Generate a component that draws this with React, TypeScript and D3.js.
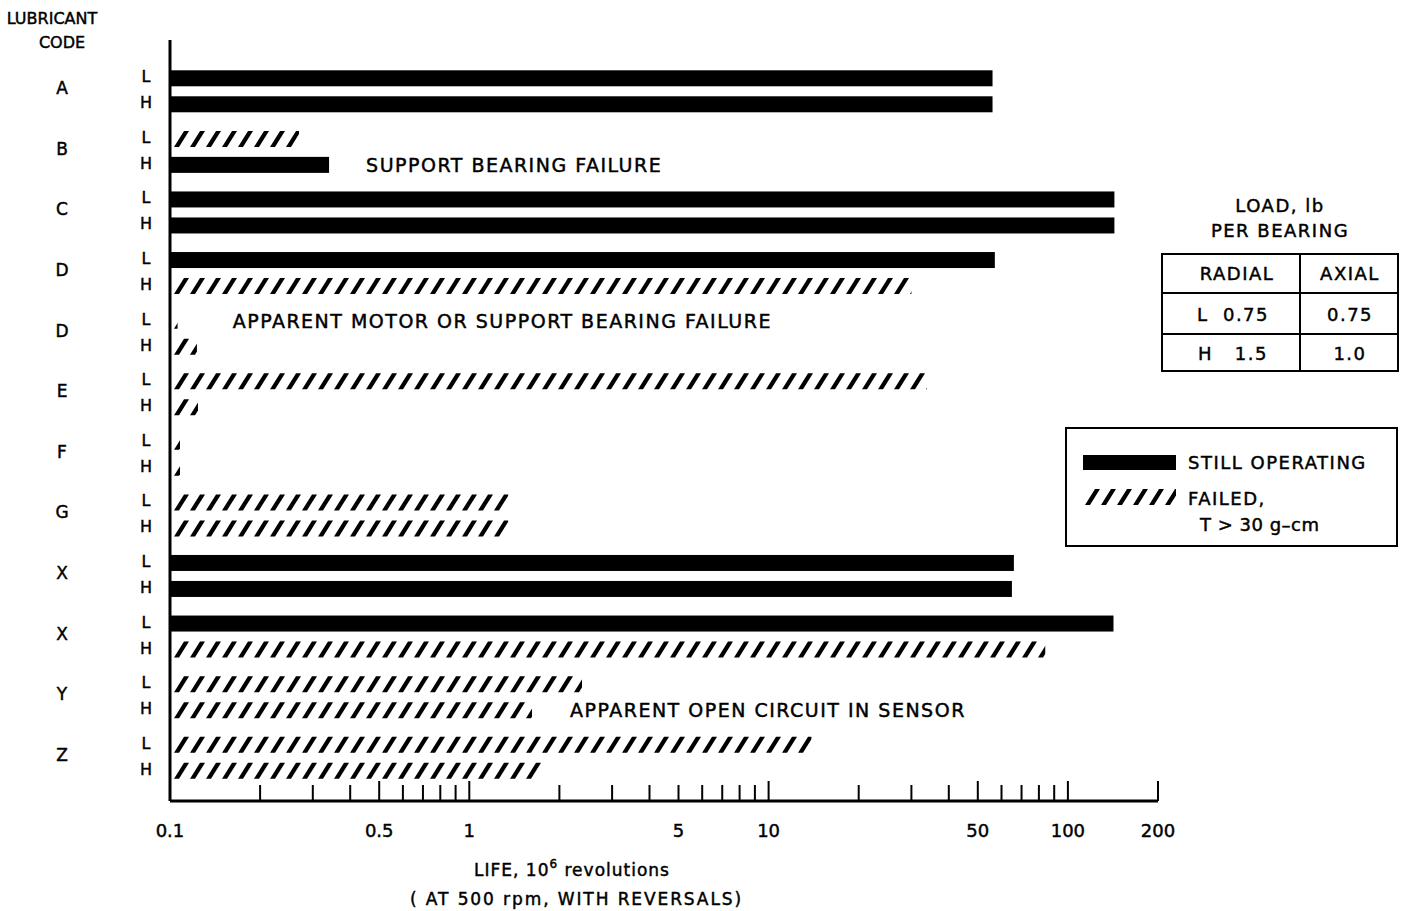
import React from "react";
import { scaleLog, scaleBand, range } from "d3";

// lubricant codes, one group per row pair (L then H load)
const codes = ["A", "B", "C", "D", "D", "E", "F", "G", "X", "X", "Y", "Z"];
const lifeL = [56, 0.27, 143, 57, 0.106, 33.8, 0.108, 1.35, 66, 142, 2.38, 13.9];
const lifeH = [56, 0.34, 143, 30, 0.123, 0.124, 0.108, 1.35, 65, 84, 1.62, 1.75];
const statusL = ["run", "fail", "run", "run", "fail", "fail", "fail", "fail", "run", "run", "fail", "fail"];
const statusH = ["run", "run", "run", "fail", "fail", "fail", "fail", "fail", "run", "fail", "fail", "fail"];

const minorTicks = [0.2, 0.3, 0.4, 0.5, 0.6, 0.7, 0.8, 0.9, 1, 2, 3, 4, 5, 6, 7, 8, 9, 10, 20, 30, 40, 50, 60, 70, 80, 90, 100, 200];
const majorTicks = [0.5, 1, 10, 50, 100, 200];
const tickLabels = [0.1, 0.5, 1, 5, 10, 50, 100, 200];

const notes = [
  { text: "SUPPORT BEARING FAILURE", group: 1, load: "H", x: 0.452 },
  { text: "APPARENT MOTOR OR SUPPORT BEARING FAILURE", group: 4, load: "L", x: 0.162 },
  { text: "APPARENT OPEN CIRCUIT IN SENSOR", group: 10, load: "H", x: 2.17 },
];

const tableRows = [
  ["L  0.75", "0.75"],
  ["H   1.5", "1.0"],
];

const FONT = "'DejaVu Sans', sans-serif";
const BAR_H = 16;
// heavier lettering, like the stencil text of the original
const ink = { fill: "#000", stroke: "#000", strokeWidth: 0.45 };

function Hatch({ x0, x1, yc, id }) {
  const top = yc - BAR_H / 2;
  const bot = yc + BAR_H / 2;
  const starts = range(x0 + 2, x1, 16);
  return (
    <g>
      <clipPath id={id}>
        <rect x={x0} y={top - 1} width={Math.max(0, x1 - x0)} height={BAR_H + 2} />
      </clipPath>
      <g clipPath={`url(#${id})`}>
        {starts.map((s, i) => (
          <polygon
            key={i}
            points={`${s},${bot} ${s + 5},${bot} ${s + 15},${top} ${s + 10},${top}`}
            fill="#000"
          />
        ))}
      </g>
    </g>
  );
}

export default function App() {
  const x = scaleLog().domain([0.1, 200]).range([170, 1158]);
  const y = scaleBand<number>()
    .domain(range(codes.length))
    .range([61, 788])
    .paddingInner(0);
  const axisY = 801;
  const x0 = x(0.1);

  const rowY = (g: number, load: string) =>
    (y(g) as number) + y.bandwidth() / 2 + (load === "L" ? -13 : 13);

  const bars = [];
  codes.forEach((c, i) => {
    [
      ["L", lifeL[i], statusL[i]],
      ["H", lifeH[i], statusH[i]],
    ].forEach(([load, v, st]) => {
      bars.push({ g: i, load, v, st });
    });
  });

  return (
    <svg
      width={1406}
      height={911}
      style={{ position: "absolute", left: 0, top: 0, background: "#fff" }}
      fontFamily={FONT}
    >
      <text x={52} y={24} textAnchor="middle" fontSize={16} {...ink}>LUBRICANT</text>
      <text x={62} y={48} textAnchor="middle" fontSize={16} {...ink}>CODE</text>

      {codes.map((c, i) => (
        <text key={i} x={62} y={(y(i) as number) + y.bandwidth() / 2 + 3} textAnchor="middle" fontSize={17} {...ink}>
          {c}
        </text>
      ))}

      {bars.map((b, i) => {
        const yc = rowY(b.g, b.load);
        return (
          <text key={"lh" + i} x={146} y={yc + 4} textAnchor="middle" fontSize={16} {...ink}>
            {b.load}
          </text>
        );
      })}

      {bars.map((b, i) => {
        const yc = rowY(b.g, b.load);
        const x1 = x(b.v);
        return b.st === "run" ? (
          <rect key={"b" + i} x={x0} y={yc - BAR_H / 2} width={x1 - x0} height={BAR_H} fill="#000" />
        ) : (
          <Hatch key={"b" + i} x0={x0 + 2} x1={x1} yc={yc} id={"clip" + i} />
        );
      })}

      {notes.map((n, i) => (
        <text key={"n" + i} x={x(n.x)} y={rowY(n.group, n.load) + 7} fontSize={19} letterSpacing={1.5} {...ink}>
          {n.text}
        </text>
      ))}

      {/* axes */}
      <line x1={x0} x2={x0} y1={40} y2={axisY} stroke="#000" strokeWidth={3} />
      <line x1={x0} x2={x(200)} y1={axisY} y2={axisY} stroke="#000" strokeWidth={3} />
      {minorTicks.map((t) => (
        <line
          key={"t" + t}
          x1={x(t)}
          x2={x(t)}
          y1={axisY}
          y2={axisY - (majorTicks.includes(t) ? 20 : 16)}
          stroke="#000"
          strokeWidth={2}
        />
      ))}
      {tickLabels.map((t) => (
        <text key={"l" + t} x={x(t)} y={axisY + 36} textAnchor="middle" fontSize={18} {...ink}>
          {t}
        </text>
      ))}

      <text x={474} y={876} fontSize={17} letterSpacing={1} {...ink}>
        LIFE, 10
        <tspan dy={-8} fontSize={12}>6</tspan>
        <tspan dy={8}> revolutions</tspan>
      </text>
      <text x={410} y={905} fontSize={17} letterSpacing={1.9} {...ink}>
        ( AT  500 rpm, WITH REVERSALS)
      </text>

      {/* load table */}
      <text x={1280} y={212} textAnchor="middle" fontSize={18} letterSpacing={1.5} {...ink}>LOAD, lb</text>
      <text x={1280} y={237} textAnchor="middle" fontSize={18} letterSpacing={1.5} {...ink}>PER BEARING</text>
      <rect x={1162} y={254} width={236} height={117} fill="none" stroke="#000" strokeWidth={2} />
      <line x1={1300} x2={1300} y1={254} y2={371} stroke="#000" strokeWidth={2} />
      <line x1={1162} x2={1398} y1={293} y2={293} stroke="#000" strokeWidth={2} />
      <line x1={1162} x2={1398} y1={334} y2={334} stroke="#000" strokeWidth={2} />
      <text x={1237} y={280} textAnchor="middle" fontSize={18} letterSpacing={1.5} {...ink}>RADIAL</text>
      <text x={1350} y={280} textAnchor="middle" fontSize={18} letterSpacing={1.5} {...ink}>AXIAL</text>
      {tableRows.map((r, i) => {
        const yy = [321, 360][i];
        return (
          <g key={"tr" + i}>
            <text x={1233} y={yy} textAnchor="middle" fontSize={18} letterSpacing={1.5} {...ink} style={{ whiteSpace: "pre" }}>{r[0]}</text>
            <text x={1350} y={yy} textAnchor="middle" fontSize={18} letterSpacing={1.5} {...ink}>{r[1]}</text>
          </g>
        );
      })}

      {/* legend */}
      <rect x={1066} y={428} width={331} height={118} fill="none" stroke="#000" strokeWidth={2} />
      <rect x={1083} y={455} width={93} height={15} fill="#000" />
      <text x={1188} y={469} fontSize={18} letterSpacing={1.5} {...ink}>STILL OPERATING</text>
      <Hatch x0={1083} x1={1176} yc={497} id="legclip" />
      <text x={1188} y={505} fontSize={18} letterSpacing={1.5} {...ink}>FAILED,</text>
      <text x={1200} y={531} fontSize={18} letterSpacing={0.5} {...ink}>T &gt; 30 g–cm</text>
    </svg>
  );
}
